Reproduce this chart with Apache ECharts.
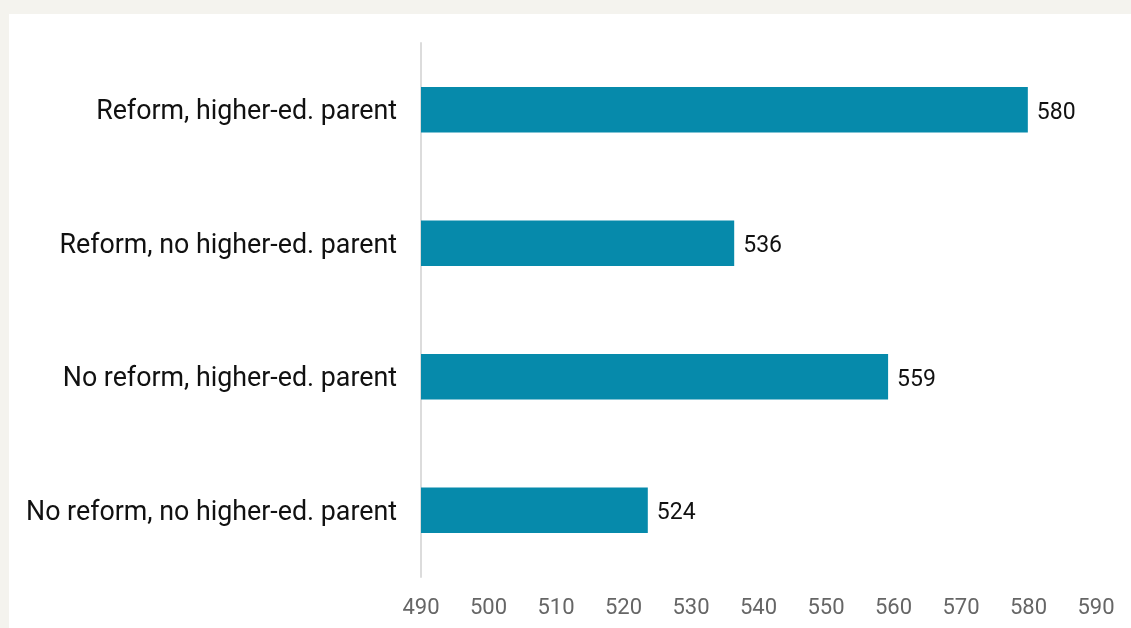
<!DOCTYPE html>
<html>
<head>
<meta charset="utf-8">
<script src="https://cdn.jsdelivr.net/npm/echarts@6/dist/echarts.min.js"></script>
<style>
  html, body { margin: 0; padding: 0; background: #f4f3ee; }
  .card { position: absolute; left: 9px; top: 14px; right: 0; bottom: 0; background: #fff; }
  #main { position: absolute; left: 0; top: 0; width: 1131px; height: 628px; }
</style>
</head>
<body>
<div class="card"></div>
<div id="main"></div>
<script>
var categories = [
  'No reform, no higher-ed. parent',
  'No reform, higher-ed. parent',
  'Reform, no higher-ed. parent',
  'Reform, higher-ed. parent'
];
// mean scores (bar ends, labels rounded)
var scores = [523.6, 559.2, 536.4, 579.9];
var ticks = [490, 500, 510, 520, 530, 540, 550, 560, 570, 580, 590];

var chart = echarts.init(document.getElementById('main'));
chart.setOption({
  animation: false,
  textStyle: { fontFamily: 'Roboto' },
  grid: { left: 421, right: 35, top: 43, bottom: 51, containLabel: false },
  xAxis: {
    type: 'value',
    min: ticks[0],
    max: ticks[ticks.length - 1],
    interval: 10,
    axisLine: { show: false },
    axisTick: { show: false },
    splitLine: { show: false },
    axisLabel: { color: '#666', fontSize: 22, margin: 20 }
  },
  yAxis: {
    type: 'category',
    data: categories,
    axisLine: { show: true, lineStyle: { color: '#dcdcdc', width: 2 } },
    axisTick: { show: false },
    axisLabel: {
      margin: 24,
      formatter: '{c|{value}}',
      rich: { c: { color: '#111', fontSize: 26.8, fontFamily: 'Roboto', padding: [6, 0, 0, 0] } }
    }
  },
  series: [{
    type: 'bar',
    data: scores,
    barWidth: '34%',
    itemStyle: { color: '#068aab' },
    label: {
      show: true, position: 'right', distance: 9, color: '#111', fontSize: 23,
      offset: [0, 3],
      formatter: function (p) { return Math.round(p.value); }
    }
  }]
});
</script>
</body>
</html>
